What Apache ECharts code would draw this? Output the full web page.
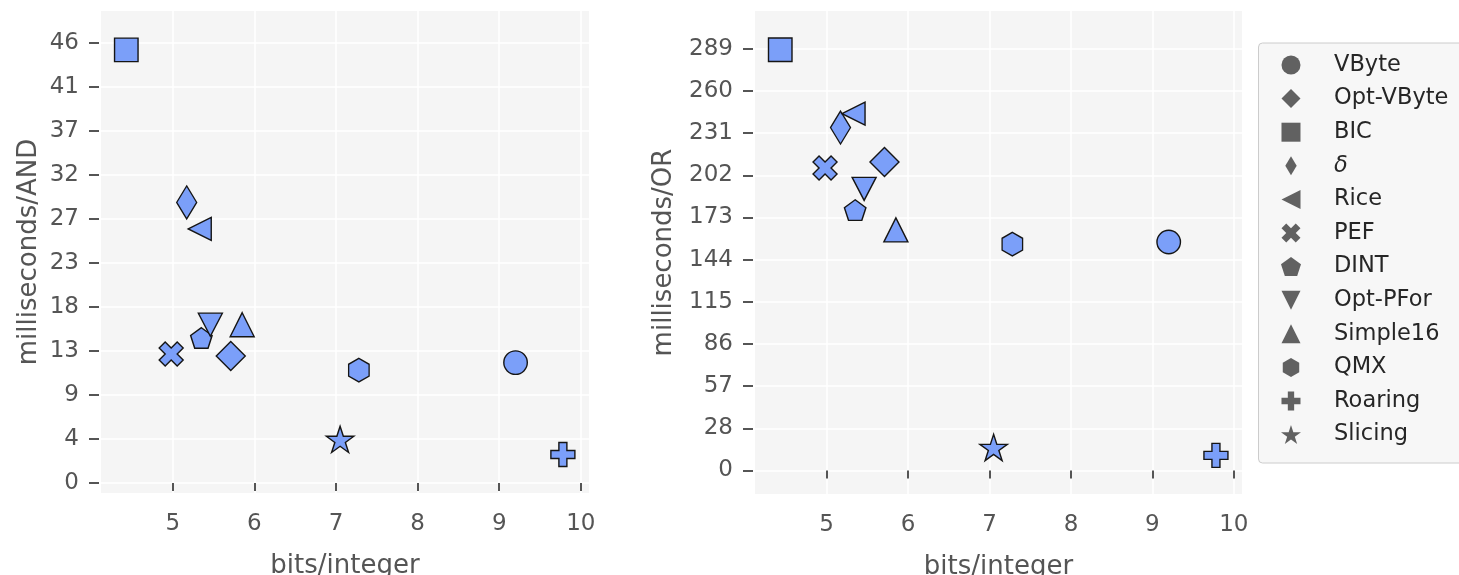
<!DOCTYPE html>
<html>
<head>
<meta charset="utf-8">
<script src="https://cdn.jsdelivr.net/npm/echarts@6/dist/echarts.min.js"></script>
<style>
html,body{margin:0;padding:0;background:#fff;}
#chart{width:1459px;height:575px;}
</style>
</head>
<body>
<div id="chart"></div>
<script>
// ---- data ----
const methods = ['VByte','Opt-VByte','BIC','δ','Rice','PEF','DINT','Opt-PFor','Simple16','QMX','Roaring','Slicing'];
const bitsPerInteger = [9.20, 5.71, 4.43, 5.17, 5.33, 4.98, 5.35, 5.46, 5.85, 7.28, 9.78, 7.05];
const msAND = [12.7, 13.4, 45.7, 29.6, 26.8, 13.6, 15.3, 16.7, 16.7, 11.9, 3.0, 4.6];
const msOR  = [156.7, 211.5, 288.5, 235.2, 244.7, 207.5, 178.6, 193.1, 165.0, 155.2, 10.4, 15.8];
const xTicks = [5, 6, 7, 8, 9, 10];
const andTickValues = [0, 4.64, 9.28, 13.92, 18.56, 23.2, 27.84, 32.48, 37.12, 41.76, 46.4];
const andTickLabels = ['0','4','9','13','18','23','27','32','37','41','46'];
const orTickValues = [0, 28.92, 57.84, 86.76, 115.68, 144.6, 173.52, 202.44, 231.36, 260.28, 289.2];
const orTickLabels = ['0','28','57','86','115','144','173','202','231','260','289'];

// ---- marker shapes (style) ----
function starPath(){
  const pts=[];
  for(let k=0;k<10;k++){
    const r = k%2===0 ? 100 : 38.1966;
    const a = (90 + 36*k) * Math.PI/180;
    pts.push((r*Math.cos(a)).toFixed(2)+','+(-r*Math.sin(a)).toFixed(2));
  }
  return 'path://M'+pts.join('L')+'Z';
}
const P = {
  square: 'path://M0,0L10,0L10,10L0,10Z',
  diamond: 'path://M5,0L10,5L5,10L0,5Z',
  thin: 'path://M3,0L6,5L3,10L0,5Z',
  left: 'path://M0,5L10,0L10,10Z',
  x: 'path://M1,0L2,1L3,0L4,1L3,2L4,3L3,4L2,3L1,4L0,3L1,2L0,1Z',
  pent: 'path://M0,-100L95.1,-30.9L58.8,80.9L-58.8,80.9L-95.1,-30.9Z',
  down: 'path://M0,0L10,0L5,10Z',
  up: 'path://M5,0L10,10L0,10Z',
  hex: 'path://M0,-100L86.6,-50L86.6,50L0,100L-86.6,50L-86.6,-50Z',
  plus: 'path://M2,0L4,0L4,2L6,2L6,4L4,4L4,6L2,6L2,4L0,4L0,2L2,2Z',
  star: starPath()
};
const markerStyle = [
  {sym:'circle', size:[23.5,23.5]},
  {sym:P.diamond, size:[29,29]},
  {sym:P.square, size:[23.5,23.5]},
  {sym:P.thin, size:[20,33]},
  {sym:P.left, size:[23,23]},
  {sym:P.x, size:[24,24]},
  {sym:P.pent, size:[21.5,20.5]},
  {sym:P.down, size:[24,23]},
  {sym:P.up, size:[24,24]},
  {sym:P.hex, size:[20.5,23.5]},
  {sym:P.plus, size:[24,24]},
  {sym:P.star, size:[27.5,26.2]}
];

const FONT = 'DejaVu Sans';
const TICK_COLOR = '#555555';

function xAxisCfg(gridIndex){
  return {
    type:'value', gridIndex, min:4.12, max:10.10, offset:4,
    axisLine:{show:false},
    axisTick:{show:true, length:8, lineStyle:{color:TICK_COLOR, width:2}, customValues:xTicks},
    axisLabel:{customValues:xTicks, margin:16, fontSize:23, color:TICK_COLOR, fontFamily:FONT},
    splitLine:{show:true, lineStyle:{color:'#ffffff', width:1.5}},
    name:'bits/integer', nameLocation:'middle', nameGap:56,
    nameTextStyle:{fontSize:26, color:TICK_COLOR, fontFamily:FONT}
  };
}
function yAxisCfg(gridIndex, min, max, vals, labels, name, gap){
  return {
    type:'value', gridIndex, min, max, offset:2,
    axisLine:{show:false},
    axisTick:{show:true, length:10, lineStyle:{color:TICK_COLOR, width:2}, customValues:vals},
    axisLabel:{customValues:vals, margin:20, fontSize:23, color:TICK_COLOR, fontFamily:FONT,
      formatter:function(v){
        const i = vals.findIndex(t=>Math.abs(t-v)<1e-6);
        return i>=0 ? labels[i] : '';
      }},
    splitLine:{show:true, lineStyle:{color:'#ffffff', width:1.5}},
    name, nameLocation:'middle', nameGap:gap,
    nameTextStyle:{fontSize:26, color:TICK_COLOR, fontFamily:FONT}
  };
}

const series = [];
methods.forEach((m,i)=>{
  [[0,msAND],[1,msOR]].forEach(([g,arr])=>{
    series.push({
      type:'scatter', name:m, xAxisIndex:g, yAxisIndex:g,
      data:[[bitsPerInteger[i], arr[i]]],
      symbol:markerStyle[i].sym, symbolSize:markerStyle[i].size,
      itemStyle:{color:'#7b9ff9', borderColor:'#151515', borderWidth:1.4, opacity:1},
      emphasis:{disabled:true}, silent:true, animation:false
    });
  });
});

const legendIcons = markerStyle.map(s=>s.sym);

const option = {
  backgroundColor:'#ffffff',
  animation:false,
  textStyle:{fontFamily:FONT},
  grid:[
    {left:101, top:11, width:488, height:482, show:true, backgroundColor:'#f5f5f5', borderWidth:0,
     containLabel:false, outerBoundsMode:'none'},
    {left:755, top:11, width:487, height:483, show:true, backgroundColor:'#f5f5f5', borderWidth:0,
     containLabel:false, outerBoundsMode:'none'}
  ],
  xAxis:[xAxisCfg(0), xAxisCfg(1)],
  yAxis:[
    yAxisCfg(0, -1.06, 49.8, andTickValues, andTickLabels, 'milliseconds/AND', 57),
    yAxisCfg(1, -16.1, 315.1, orTickValues, orTickLabels, 'milliseconds/OR', 76)
  ],
  graphic:[{
    type:'rect', left:1258, top:42.5, z:-1,
    shape:{width:215, height:420, r:4},
    style:{fill:'#f7f7f7', stroke:'#cccccc', lineWidth:1}
  }],
  legend:{
    orient:'vertical', left:1281, top:53.5, padding:0,
    itemWidth:76, itemHeight:19, itemGap:10.6,
    selectedMode:false,
    itemStyle:{color:'#616161', borderWidth:0},
    data: methods.map((m,i)=>({name:m, icon:legendIcons[i]})),
    formatter:function(n){ return n==='δ' ? '{it|δ}' : n; },
    textStyle:{fontSize:22.5, color:'#262626', fontFamily:FONT, lineHeight:20,
      rich:{it:{fontStyle:'italic', fontSize:22.5, color:'#262626', fontFamily:FONT, lineHeight:20}}}
  },
  series
};
const chart = echarts.init(document.getElementById('chart'), null, {renderer:'canvas'});
chart.setOption(option);
</script>
</body>
</html>
